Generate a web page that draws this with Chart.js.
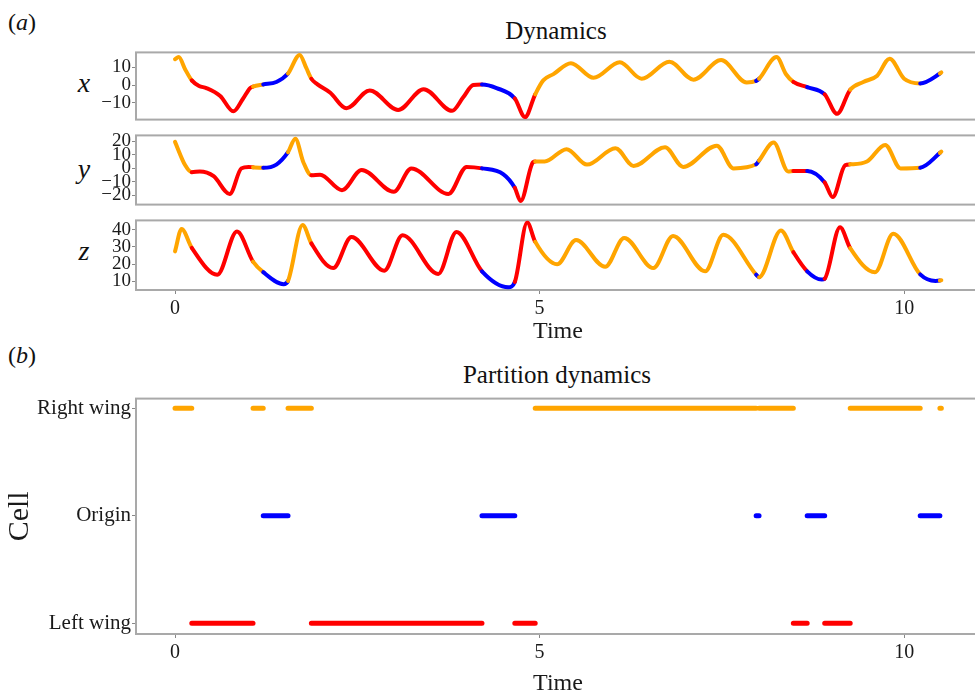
<!DOCTYPE html>
<html>
<head>
<meta charset="utf-8">
<script src="https://cdn.jsdelivr.net/npm/chart.js@4.4.0/dist/chart.umd.min.js"></script>
<style>
  body { margin: 0; width: 975px; height: 692px; overflow: hidden; background: #fff; position: relative; font-family: 'Liberation Serif', serif; }
  canvas { position: absolute; left: 0; }
  .lbl { position: absolute; color: #111; white-space: nowrap; transform: translate(-50%, -50%); }
</style>
</head>
<body>
<div class="lbl" style="left:22px;top:22px;font-size:24px">(<i>a</i>)</div>
<div class="lbl" style="left:22px;top:355px;font-size:24px">(<i>b</i>)</div>
<div class="lbl" style="left:556px;top:31px;font-size:25px">Dynamics</div>
<div class="lbl" style="left:557px;top:375px;font-size:25px">Partition dynamics</div>
<div class="lbl" style="left:84px;top:83px;font-size:28px"><i>x</i></div>
<div class="lbl" style="left:84px;top:169px;font-size:28px"><i>y</i></div>
<div class="lbl" style="left:84px;top:251px;font-size:28px"><i>z</i></div>

<canvas id="chartX" width="990" height="92" style="top:40px"></canvas>
<canvas id="chartY" width="990" height="94" style="top:123px"></canvas>
<canvas id="chartZ" width="990" height="140" style="top:208px"></canvas>
<canvas id="chartCell" width="990" height="315" style="top:385px"></canvas>

<script>
// time series (time, value)
const tX = [0,0.05,0.14,0.23,0.33,0.43,0.62,0.80,0.93,1.03,1.07,1.21,1.39,1.55,1.71,1.80,1.87,1.95,2.13,2.35,2.67,3.06,3.41,3.80,3.95,4.09,4.21,4.41,4.66,4.80,4.94,5.05,5.19,5.43,5.74,6.10,6.40,6.78,7.11,7.49,7.84,7.97,8.01,8.25,8.38,8.48,8.67,8.91,9.08,9.26,9.44,9.63,9.80,10.0,10.22,10.49,10.51];
const xVals = [14.4,15.6,8.7,2.6,-0.5,-1.7,-6.1,-14.7,-7.8,-1.7,-0.9,0.3,1.7,6.4,16.8,9.5,3.5,0.5,-4.3,-13,-3.0,-13.9,-2.3,-14.4,-7,0,0.3,-1.7,-7.5,-17.9,-5.2,2.6,6.1,12.2,4.0,12.7,3.5,13.0,3.0,13.9,1.4,2.3,3.5,15.6,6,1.7,-1.2,-5.2,-16.1,-2.6,1.7,5.2,14.7,3.5,0.9,6.4,7.0];

const tY = [0,0.14,0.23,0.34,0.53,0.75,0.91,1.01,1.07,1.21,1.39,1.55,1.65,1.76,1.87,1.99,2.29,2.56,3.00,3.24,3.75,4.00,4.21,4.50,4.66,4.74,4.91,4.94,5.07,5.37,5.65,6.04,6.29,6.72,6.97,7.43,7.66,7.97,8.01,8.21,8.41,8.48,8.67,8.91,9.02,9.19,9.26,9.49,9.74,9.95,10.22,10.49,10.51];
const yVals = [19.7,2.3,-2.8,-2.3,-5.8,-19,0,1.1,0.8,0.4,2.8,12,22,4.6,-5.1,-4.7,-16.2,-1.2,-17.4,0,-19,1.1,0,-4.2,-14.4,-24.3,4.6,5.1,5.1,14.3,2.8,15,1.8,15.7,1.1,16.9,0,3,5.8,19.2,-2.3,-1.9,-1.9,-10.4,-21.3,2.3,3.0,5.1,17.4,0,0.5,11.5,12.5];

const tZ = [0,0.09,0.23,0.58,0.85,1.07,1.21,1.49,1.55,1.75,1.87,2.17,2.42,2.87,3.12,3.61,3.86,4.21,4.57,4.66,4.83,4.94,5.24,5.50,5.90,6.16,6.56,6.83,7.27,7.52,7.97,8.01,8.31,8.48,8.67,8.87,8.91,9.12,9.26,9.60,9.85,10.22,10.43,10.49,10.51];
const zVals = [27.4,40.5,29.5,13.8,39,21.5,15.3,8.3,10.2,42.8,32.1,17.7,35.8,16.2,36.8,14.3,38.7,15.8,6.5,9.6,44.3,33,19.9,34,18.4,35.3,17.7,36.4,15.8,37.1,13.9,12.4,39.6,27,15.8,11,11.5,41.5,29.3,15.2,37.7,14,10.2,10.4,10.6];

// partition: time each stretch starts and the cell it is in
const cellStart = [0,0.23,1.07,1.21,1.55,1.87,4.21,4.66,4.94,7.97,8.01,8.48,8.67,8.91,9.26,10.22,10.49];
const cellName = ['Right wing','Left wing','Right wing','Origin','Right wing','Left wing','Origin','Left wing','Right wing','Origin','Right wing','Left wing','Origin','Left wing','Right wing','Origin','Right wing'];
const tEnd = 10.51;
const cells = ['Left wing', 'Origin', 'Right wing'];
const timeTicks = [0, 5, 10];

const cellColor = { 'Right wing': '#FFA500', 'Origin': '#0000FF', 'Left wing': '#FF0000' };

function cellAt(t) {
  let i = 0;
  while (i + 1 < cellStart.length && cellStart[i + 1] <= t) i++;
  return cellName[i];
}

// grey box round the plot area
const frame = {
  id: 'frame',
  beforeDatasetsDraw(chart) {
    const a = chart.chartArea, ctx = chart.ctx;
    ctx.save();
    ctx.strokeStyle = '#a9a9a9';
    ctx.lineWidth = 2;
    ctx.strokeRect(a.left, a.top, a.right - a.left, a.bottom - a.top);
    ctx.restore();
  }
};

const serif = 'Liberation Serif';
Chart.defaults.font.family = serif;
Chart.defaults.color = '#1a1a1a';

function timeAxis(show, axisHeight) {
  return {
    type: 'linear',
    min: -0.535,
    max: 11.04,
    display: show,
    afterBuildTicks: s => { s.ticks = timeTicks.map(v => ({ value: v })); },
    afterFit: s => { s.height = show ? axisHeight : 0; },
    grid: { drawOnChartArea: false, tickLength: 4, color: '#888' },
    border: { display: false },
    ticks: { font: { size: 20 }, padding: 3, maxRotation: 0 },
    title: { display: true, text: 'Time', font: { size: 24 }, padding: { top: 0, bottom: 2 } }
  };
}

function valueAxis(min, max, ticks, fontSize) {
  return {
    min: min,
    max: max,
    afterBuildTicks: s => { s.ticks = ticks.map(v => ({ value: v })); },
    afterFit: s => { s.width = 136; },
    grid: { drawOnChartArea: false, tickLength: 4, color: '#888' },
    border: { display: false },
    ticks: { font: { size: fontSize }, padding: 1, autoSkip: false,
      callback: v => (v < 0 ? '\u2212' + Math.abs(v) : '' + v) }
  };
}

function seriesChart(id, times, vals, yMin, yMax, yTicks, showTime) {
  const pts = times.map((t, i) => ({ x: t, y: vals[i] }));
  return new Chart(document.getElementById(id), {
    type: 'line',
    data: {
      datasets: [{
        data: pts,
        borderWidth: 4,
        pointRadius: 0,
        cubicInterpolationMode: 'monotone',
        borderCapStyle: 'round',
        segment: {
          borderColor: c => cellColor[cellAt((c.p0.parsed.x + c.p1.parsed.x) / 2)]
        }
      }]
    },
    options: {
      responsive: false,
      animation: false,
      layout: { padding: { top: 10, bottom: showTime ? 0 : 10, right: 10, left: 0 } },
      plugins: { legend: { display: false }, tooltip: { enabled: false } },
      scales: {
        x: timeAxis(showTime, 58),
        y: valueAxis(yMin, yMax, yTicks, 19)
      }
    },
    plugins: [frame]
  });
}

seriesChart('chartX', tX, xVals, -19.3, 18.2, [-10, 0, 10], false);
seriesChart('chartY', tY, yVals, -26.9, 24.5, [-20, -10, 0, 10, 20], false);
seriesChart('chartZ', tZ, zVals, 4.9, 45.5, [10, 20, 30, 40], true);

// partition dynamics: one line per cell, stretches separated by gaps
const cellSets = cells.map((name, k) => {
  const data = [];
  cellStart.forEach((s, i) => {
    if (cellName[i] !== name) return;
    const e = i + 1 < cellStart.length ? cellStart[i + 1] : tEnd;
    data.push({ x: s, y: k + 1 }, { x: e, y: k + 1 }, { x: e, y: null });
  });
  return {
    data: data,
    borderColor: cellColor[name],
    borderWidth: 5,
    borderCapStyle: 'round',
    pointRadius: 0,
    spanGaps: false
  };
});

const cellAxis = valueAxis(0.9, 3.09, [1, 2, 3], 21);
cellAxis.ticks.callback = v => cells[v - 1];
cellAxis.title = { display: true, text: 'Cell', font: { size: 30 }, padding: { top: 2 } };

new Chart(document.getElementById('chartCell'), {
  type: 'line',
  data: { datasets: cellSets },
  options: {
    responsive: false,
    animation: false,
    layout: { padding: { top: 10, bottom: 0, right: 10, left: 0 } },
    plugins: { legend: { display: false }, tooltip: { enabled: false } },
    scales: {
      x: timeAxis(true, 66),
      y: cellAxis
    }
  },
  plugins: [frame]
});
</script>
</body>
</html>
